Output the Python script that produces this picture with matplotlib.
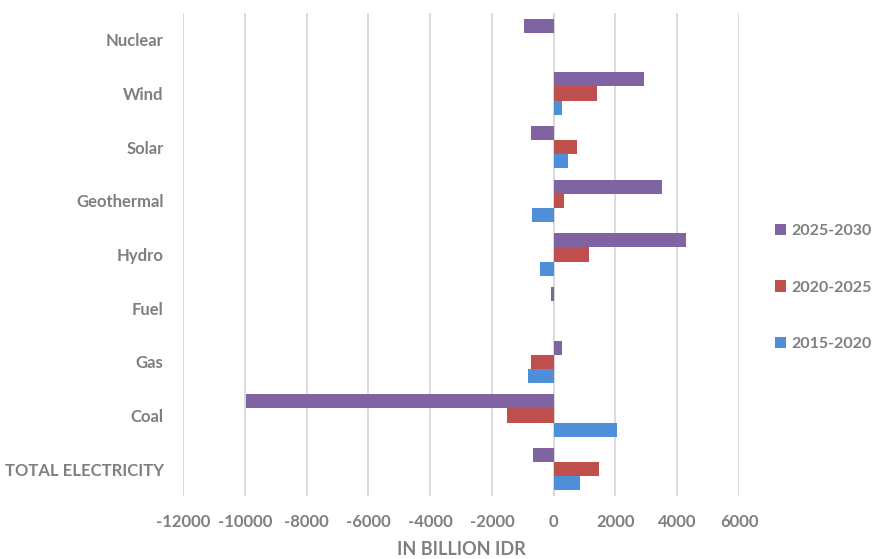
import matplotlib.pyplot as plt
import numpy as np

categories = ["TOTAL ELECTRICITY", "Coal", "Gas", "Fuel", "Hydro",
              "Geothermal", "Solar", "Wind", "Nuclear"]
period_2015_2020 = [853, 2053, -822, 0, -454, -702, 465, 270, 0]
period_2020_2025 = [1470, -1514, -735, 0, 1146, 324, 757, 1405, 0]
period_2025_2030 = [-681, -9975, 281, -86, 4290, 3512, -724, 2917, -970]
x_ticks = list(range(-12000, 6001, 2000))

blue = "#4F8ED8"
red = "#C0504D"
purple = "#8064A2"
grey = "#7F7F7F"

plt.rcParams["font.family"] = ["Lato", "DejaVu Sans"]
plt.rcParams["font.weight"] = "bold"

fig = plt.figure(figsize=(8.8, 5.59), dpi=100)
ax = fig.add_axes([183 / 880, 1 - 496 / 559, (739 - 183) / 880, (496 - 13) / 559])

y = np.arange(len(categories))
h = 0.265
ax.barh(y - h, period_2015_2020, height=h, color=blue, label="2015-2020", zorder=3)
ax.barh(y, period_2020_2025, height=h, color=red, label="2020-2025", zorder=3)
ax.barh(y + h, period_2025_2030, height=h, color=purple, label="2025-2030", zorder=3)

ax.set_xlim(-12000, 6000)
ax.set_ylim(-0.5, len(categories) - 0.5)
ax.set_xticks(x_ticks)
ax.set_xticklabels([str(t) for t in x_ticks])
ax.set_yticks(y)
ax.set_yticklabels(categories)
ax.grid(axis="x", color="#D9D9D9", linewidth=1.3, zorder=0)
ax.axvline(0, color="#D9D9D9", linewidth=1.3, zorder=1)
for side in ["top", "right", "bottom", "left"]:
    ax.spines[side].set_visible(False)
ax.tick_params(axis="both", length=0, labelsize=12, labelcolor=grey)
ax.tick_params(axis="y", pad=14)
ax.tick_params(axis="x", pad=13)
for lbl in ax.get_xticklabels() + ax.get_yticklabels():
    lbl.set_fontweight("bold")

ax.set_xlabel("IN BILLION IDR", fontsize=13, color=grey, fontweight="bold", labelpad=8)

handles, labels = ax.get_legend_handles_labels()
leg = fig.legend(handles[::-1], labels[::-1], loc="center left",
                 bbox_to_anchor=(775 / 880, 1 - 287.5 / 559), frameon=False,
                 fontsize=11.5, labelspacing=2.65, handlelength=0.7,
                 handleheight=0.7, handletextpad=0.35, borderpad=0,
                 borderaxespad=0)
for t in leg.get_texts():
    t.set_color(grey)
    t.set_fontweight("bold")

fig.savefig("out.png", dpi=100)
